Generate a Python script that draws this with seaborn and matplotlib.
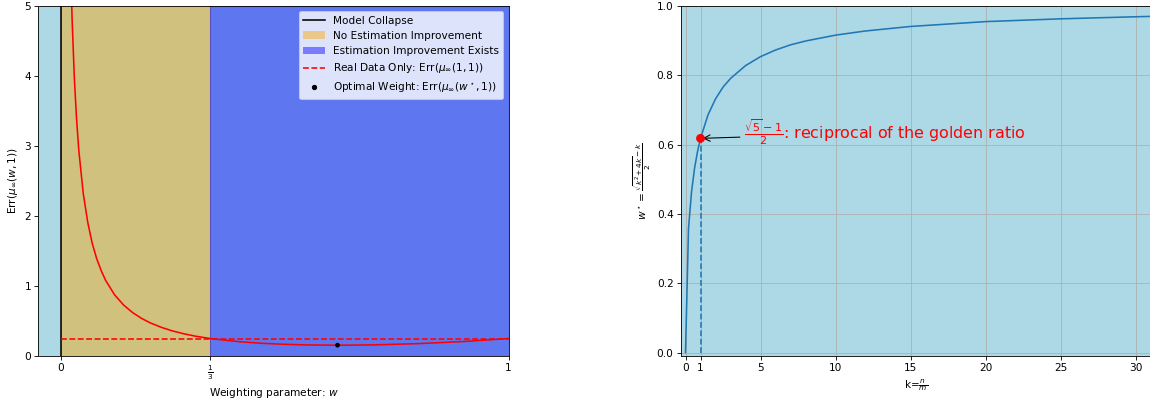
import matplotlib
matplotlib.use("Agg")
import matplotlib.pyplot as plt
import seaborn as sns
import numpy as np
from matplotlib.lines import Line2D
from matplotlib.patches import Patch

# ---- data ----
w_vals = [0.02, 0.025, 0.03, 0.035, 0.04, 0.05, 0.06, 0.07, 0.08, 0.09, 0.10,
          0.12, 0.14, 0.16, 0.18, 0.20, 0.225, 0.25, 0.275, 0.30, 0.3333,
          0.40, 0.45, 0.50, 0.55, 0.60, 0.65, 0.70, 0.80, 0.90, 1.00]
err_vals = [6.07, 4.82, 3.98, 3.39, 2.94, 2.32, 1.91, 1.61, 1.39, 1.22, 1.08,
            0.874, 0.729, 0.621, 0.538, 0.472, 0.408, 0.357, 0.317, 0.284, 0.250,
            0.203, 0.181, 0.167, 0.158, 0.155, 0.155, 0.159, 0.177, 0.207, 0.250]
real_only_err = 0.25
w_star = 0.618
err_star = 0.1545
collapse_w = 0.0
one_third = 1 / 3

k_vals = [0, 0.2, 0.4, 0.6, 0.8, 1.0, 1.5, 2, 2.5, 3, 4, 5, 6, 7, 8, 10, 12,
          15, 20, 25, 30, 32]
wstar_vals = [0.0, 0.358, 0.463, 0.531, 0.580, 0.618, 0.686, 0.732, 0.766,
              0.791, 0.828, 0.854, 0.873, 0.888, 0.899, 0.916, 0.928, 0.941,
              0.955, 0.963, 0.969, 0.971]
k_golden = 1.0
golden_recip = 0.618

left_xticks = [0, one_third, 1]
left_xticklabels = ['0', r'$\frac{1}{3}$', '1']
right_xticks = [0, 1, 5, 10, 15, 20, 25, 30]

# ---- figure ----
W, H = 1150, 402
DPI = 76
SPAN_ALPHA = 0.45
fig = plt.figure(figsize=(W / DPI, H / DPI), dpi=DPI)
ax1 = fig.add_axes([38.5 / W, 46 / H, 470 / W, 350 / H])
ax2 = fig.add_axes([681 / W, 46 / H, 470 / W, 350 / H])

# ---- left panel ----
ax1.set_facecolor('lightblue')
ax1.axvline(collapse_w, color='black')
ax1.axvspan(0, one_third, color='orange', alpha=SPAN_ALPHA)
ax1.axvspan(one_third, 1, color='blue', alpha=SPAN_ALPHA)
sns.lineplot(x=w_vals, y=err_vals, color='red', ax=ax1, sort=False)
ax1.plot([0, 1], [real_only_err, real_only_err], color='red', linestyle='--')
sns.scatterplot(x=[w_star], y=[err_star], color='black', s=20, ax=ax1,
                edgecolor='none', zorder=5)
ax1.set_xlim(-0.05, 1)
ax1.set_ylim(0, 5)
ax1.set_xticks(left_xticks)
ax1.set_xticklabels(left_xticklabels)
ax1.set_xlabel('Weighting parameter: $w$')
ax1.set_ylabel(r'Err($\mu_{\infty}(w, 1)$)')

handles = [
    Line2D([], [], color='black'),
    Patch(facecolor='orange', alpha=SPAN_ALPHA),
    Patch(facecolor='blue', alpha=SPAN_ALPHA),
    Line2D([], [], color='red', linestyle='--'),
    Line2D([], [], color='black', marker='o', linestyle='none', markersize=4),
]
labels = ['Model Collapse', 'No Estimation Improvement',
          'Estimation Improvement Exists',
          r'Real Data Only: Err($\mu_{\infty}(1, 1)$)',
          r'Optimal Weight: Err($\mu_{\infty}(w^\star, 1)$)']
ax1.legend(handles, labels, loc='upper right')

# ---- right panel ----
ax2.set_facecolor('lightblue')
sns.lineplot(x=k_vals, y=wstar_vals, color='C0', ax=ax2)
ax2.plot([k_golden, k_golden], [0, golden_recip], color='C0', linestyle='--')
sns.scatterplot(x=[k_golden], y=[golden_recip], color='red', s=70, ax=ax2,
                edgecolor='none', zorder=5)
ax2.annotate(r'$\frac{\sqrt{5}-1}{2}$: reciprocal of the golden ratio',
             xy=(k_golden, golden_recip), xytext=(3.9, 0.635),
             color='red', fontsize=15, va='center',
             arrowprops=dict(arrowstyle='->', color='black'))
ax2.set_xlim(-0.3, 31.0)
ax2.set_ylim(-0.01, 1.0)
ax2.set_xticks(right_xticks)
ax2.grid(True)
ax2.spines['right'].set_visible(False)
ax2.set_xlabel(r'k=$\frac{n}{m}$')
ax2.set_ylabel(r'$w^\star = \frac{\sqrt{k^2+4k}-k}{2}$')

fig.savefig('out.png', dpi=DPI)
